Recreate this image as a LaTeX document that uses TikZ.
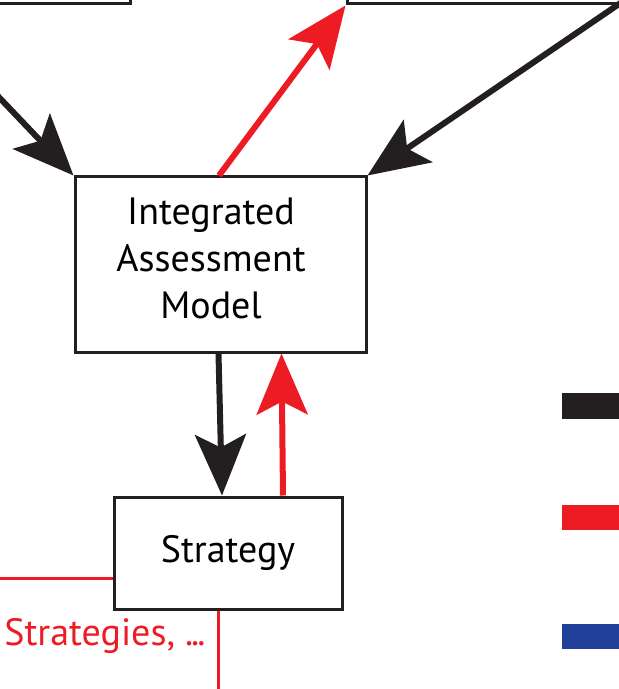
\documentclass[tikz,border=0pt]{standalone}
\usepackage{fontspec}
\setmainfont{PT Sans}
\usetikzlibrary{arrows.meta}
\definecolor{iamblack}{HTML}{231F20}
\definecolor{iamred}{HTML}{ED1C24}
\definecolor{iamblue}{HTML}{21409A}
\begin{document}
\begin{tikzpicture}[x=0.5pt,y=-0.5pt,
    box/.style={draw=iamblack,line width=1.5pt,fill=white,inner sep=0pt,
      align=center,font=\fontsize{19}{23.5}\selectfont},
    boxtext/.style={inner sep=0pt,align=center,font=\fontsize{19}{23.5}\selectfont},
    flow/.style={line width=3pt,-{Stealth[length=30.5pt,width=25.5pt,inset=6.5pt]}},
    link/.style={draw=iamred,line width=1.5pt}]
  \useasboundingbox (0,0) rectangle (619,689);
  \clip (0,0) rectangle (619,689);
  % boxes
  \draw
    (30,-46) node[box,minimum width=100pt,minimum height=50pt] (upleft){}
    (497,-46) node[box,minimum width=150pt,minimum height=50pt] (upright){}
    (220.5,264.5) node[box,minimum width=145.5pt,minimum height=87.5pt] (iam){}
    (228,553) node[box,minimum width=114pt,minimum height=56pt] (strategy){Strategy};
  \node[boxtext] (iamtext) at (211,258) {Integrated\\Assessment\\Model};
  \coordinate (inleft) at (-30,66.8);
  \coordinate (inright) at (622,2);
  \coordinate (feedin) at (-10,578);
  \coordinate (feedout) at (218,700);
  % flows
  \begin{scope}[flow]
    \draw[iamblack] (inleft) to (iam.north west);
    \draw[iamblack] (inright) to (iam.north east);
    \draw[iamred] ([xshift=-0.75pt]iam.north) to (upright.south west);
    \draw[iamblack] ([xshift=-1pt]iam.south) to ([xshift=-3pt]strategy.north);
    \draw[iamred] ([xshift=27.5pt]strategy.north) to ([xshift=30.5pt]iam.south);
  \end{scope}
  \draw[link] (feedin) -- (feedin -| strategy.west);
  \draw[link] (feedout |- strategy.south) -- (feedout);
  \node[anchor=base west,inner sep=0pt,text=iamred,font=\fontsize{19}{23.5}\selectfont]
    (strategies) at (4,645) {Strategies,\kern5pt.\kern-1pt.\kern-1pt.};
  % legend
  \fill[iamblack] (562,393) rectangle (625,419);
  \fill[iamred] (562,505) rectangle (625,530);
  \fill[iamblue] (562,624) rectangle (625,649);
\end{tikzpicture}
\end{document}
